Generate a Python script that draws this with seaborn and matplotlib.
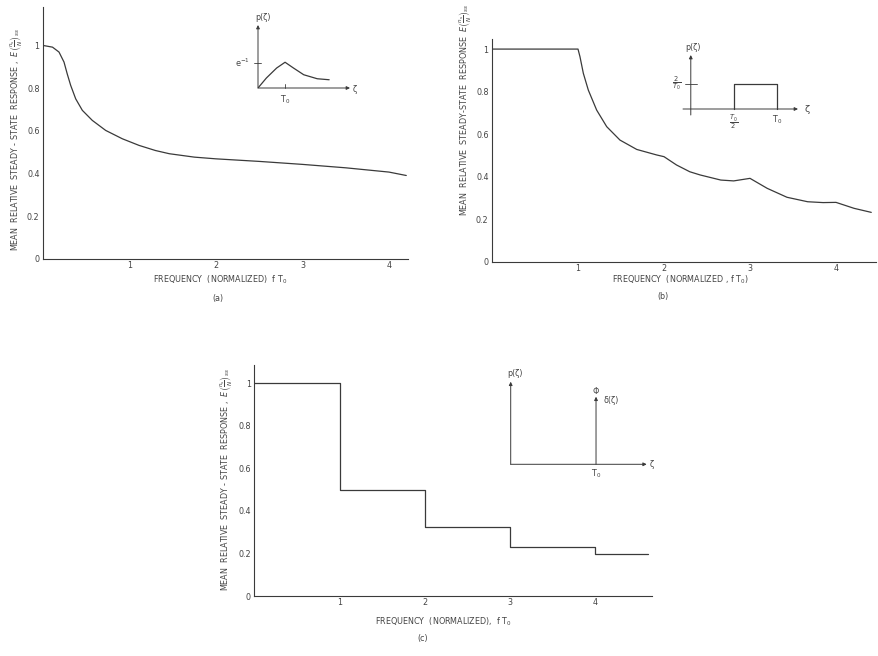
import matplotlib
matplotlib.use("Agg")
import matplotlib.pyplot as plt
import seaborn as sns
import pandas as pd

# ---------------- data ----------------
# (a) exponential-type distribution
freq_a = [0, 0.11, 0.185, 0.243, 0.28, 0.32, 0.378, 0.455, 0.57, 0.725, 0.917,
          1.11, 1.30, 1.46, 1.75, 2.0, 2.5, 3.0, 3.5, 4.0, 4.2]
resp_a = [1.0, 0.992, 0.969, 0.922, 0.867, 0.813, 0.75, 0.696, 0.649, 0.602, 0.563,
          0.532, 0.508, 0.493, 0.477, 0.469, 0.457, 0.443, 0.427, 0.407, 0.391]

# (b) uniform distribution on [T0/2, T0]
freq_b = [0, 1.0, 1.023, 1.062, 1.12, 1.217, 1.334, 1.488, 1.683, 1.915, 2.0, 2.145,
          2.30, 2.42, 2.66, 2.81, 3.0, 3.2, 3.43, 3.67, 3.85, 4.0, 4.21, 4.41]
resp_b = [1.0, 1.0, 0.964, 0.886, 0.807, 0.713, 0.635, 0.572, 0.528, 0.502, 0.494, 0.455,
          0.423, 0.408, 0.384, 0.380, 0.392, 0.345, 0.303, 0.282, 0.278, 0.279, 0.251, 0.232]

# (c) delta distribution at T0 (step response)
freq_c = [0, 1, 2, 3, 4, 4.62]
resp_c = [1.0, 0.5, 0.325, 0.232, 0.196, 0.196]

y_ticks = [0, 0.2, 0.4, 0.6, 0.8, 1.0]
y_tick_labels = ["0", "0.2", "0.4", "0.6", "0.8", "1"]
x_ticks = [1, 2, 3, 4]
x_tick_labels = ["1", "2", "3", "4"]

# inset sketches (in units of T0)
inset_a_zeta = [0, 0.31, 0.69, 1.0, 1.31, 1.69, 2.19, 2.63]
inset_a_p = [0, 0.4, 0.8, 1.03, 0.8, 0.53, 0.37, 0.33]
inset_b_zeta = [0.5, 0.5, 1.0, 1.0]
inset_b_p = [0, 1, 1, 0]
inset_c_spike_at = 1.0
inset_c_spike_height = 1.0

ylabel_comma = r"MEAN  RELATIVE  STEADY - STATE  RESPONSE ,  $E\left(\frac{n_s}{N}\right)_{ss}$"
ylabel_plain = r"MEAN  RELATIVE  STEADY-STATE  RESPONSE  $E\left(\frac{n_s}{N}\right)_{ss}$"
xlabel_a = r"FREQUENCY  (NORMALIZED)  f T$_0$"
xlabel_b = r"FREQUENCY  (NORMALIZED , f T$_0$)"
xlabel_c = r"FREQUENCY  (NORMALIZED),  f T$_0$"

# ---------------- style ----------------
sns.set_theme(style="white")
plt.rcParams["font.family"] = ["DejaVu Sans"]
plt.rcParams["mathtext.fontset"] = "dejavusans"
INK = "#3a3a3a"
TXT = "#444444"
FS = 5.8

W, H = 879, 656
fig = plt.figure(figsize=(W / 100, H / 100), dpi=100)
fig.patch.set_facecolor("white")


def px_axes(x0, ytop, x1, ybot):
    return fig.add_axes([x0 / W, 1 - ybot / H, (x1 - x0) / W, (ybot - ytop) / H])


def fig_text(x, y, s, **kw):
    kw.setdefault("fontsize", FS)
    kw.setdefault("color", TXT)
    fig.text(x / W, 1 - y / H, s, **kw)


def style_main(ax, xmax, ymax):
    ax.set_xlim(0, xmax)
    ax.set_ylim(0, ymax)
    for s in ["top", "right"]:
        ax.spines[s].set_visible(False)
    for s in ["left", "bottom"]:
        ax.spines[s].set_color(INK)
        ax.spines[s].set_linewidth(0.8)
    ax.set_xticks(x_ticks)
    ax.set_xticklabels(x_tick_labels)
    ax.set_yticks(y_ticks)
    ax.set_yticklabels(y_tick_labels)
    ax.tick_params(direction="in", length=3, width=0.6, colors=INK,
                   labelsize=FS, labelcolor=TXT)
    ax.tick_params(axis="x", pad=1.5)
    ax.tick_params(axis="y", pad=2.5)
    ax.set_xlabel("")
    ax.set_ylabel("")
    ax.patch.set_alpha(0)


def arrow(ax, x0, y0, x1, y1):
    ax.annotate("", xy=(x1, y1), xytext=(x0, y0),
                arrowprops=dict(arrowstyle="-|>", color=INK, lw=0.7,
                                mutation_scale=5, shrinkA=0, shrinkB=0))


def style_inset(ax, xlim, ylim):
    ax.set_xlim(*xlim)
    ax.set_ylim(*ylim)
    ax.axis("off")
    ax.patch.set_alpha(0)


line_kw = dict(color=INK, linewidth=0.9, estimator=None, sort=False, legend=False)

# ---------------- panel (a) ----------------
ax_a = px_axes(43, 7, 408, 259)
sns.lineplot(data=pd.DataFrame({"f": freq_a, "r": resp_a}), x="f", y="r", ax=ax_a, **line_kw)
style_main(ax_a, 4.22, 1.18)

ins_a = px_axes(258, 25, 350, 88)
sns.lineplot(x=inset_a_zeta, y=inset_a_p, ax=ins_a, **line_kw)
style_inset(ins_a, (0, 3.4), (0, 2.52))
arrow(ins_a, 0, 0, 0, 2.52)
arrow(ins_a, 0, 0, 3.4, 0)
ins_a.plot([-0.15, 0.12], [1, 1], color=INK, lw=0.6, clip_on=False)
ins_a.plot([1, 1], [0, 0.15], color=INK, lw=0.6, clip_on=False)
ins_a.text(0.18, 2.62, "p(ζ)", fontsize=FS, color=TXT, ha="center", va="bottom")
ins_a.text(-0.3, 1.0, r"e$^{-1}$", fontsize=FS, color=TXT, ha="right", va="center")
ins_a.text(1.0, -0.22, r"T$_0$", fontsize=FS, color=TXT, ha="center", va="top")
ins_a.text(3.5, -0.05, "ζ", fontsize=FS, color=TXT, ha="left", va="center")

fig_text(16, 140, ylabel_comma, rotation=90, ha="center", va="center")
fig_text(220, 280, xlabel_a, ha="center", va="center")
fig_text(218, 298, "(a)", ha="center", va="center")

# ---------------- panel (b) ----------------
ax_b = px_axes(492, 39.3, 876, 261.7)
sns.lineplot(data=pd.DataFrame({"f": freq_b, "r": resp_b}), x="f", y="r", ax=ax_b, **line_kw)
style_main(ax_b, 4.465, 1.046)

ins_b = px_axes(683, 55, 798, 115)
sns.lineplot(x=inset_b_zeta, y=inset_b_p, ax=ins_b, **line_kw)
style_inset(ins_b, (-0.09, 1.24), (-0.24, 2.16))
arrow(ins_b, 0, -0.24, 0, 2.16)
arrow(ins_b, -0.09, 0, 1.24, 0)
ins_b.plot([-0.07, 0.07], [1, 1], color=INK, lw=0.6, clip_on=False)
ins_b.text(0.03, 2.28, "p(ζ)", fontsize=FS, color=TXT, ha="center", va="bottom")
ins_b.text(-0.11, 1.0, r"$\frac{2}{T_0}$", fontsize=FS + 1, color=TXT, ha="right", va="center")
ins_b.text(0.5, -0.2, r"$\frac{T_0}{2}$", fontsize=FS + 1, color=TXT, ha="center", va="top")
ins_b.text(1.0, -0.2, r"T$_0$", fontsize=FS, color=TXT, ha="center", va="top")
ins_b.text(1.32, 0, "ζ", fontsize=FS + 1, color=TXT, ha="left", va="center")

fig_text(465, 110, ylabel_plain, rotation=90, ha="center", va="center")
fig_text(680, 280, xlabel_b, ha="center", va="center")
fig_text(663, 297, "(b)", ha="center", va="center")

# ---------------- panel (c) ----------------
ax_c = px_axes(254.3, 365, 651.7, 596)
sns.lineplot(data=pd.DataFrame({"f": freq_c, "r": resp_c}), x="f", y="r", ax=ax_c,
             drawstyle="steps-post", **line_kw)
style_main(ax_c, 4.66, 1.086)

ins_c = px_axes(510.7, 381.7, 646.7, 464.3)
style_inset(ins_c, (0, 1.594), (0, 1.222))
arrow(ins_c, 0, 0, 0, 1.222)
arrow(ins_c, 0, 0, 1.594, 0)
arrow(ins_c, inset_c_spike_at, 0, inset_c_spike_at, inset_c_spike_height)
ins_c.text(0.05, 1.27, "p(ζ)", fontsize=FS, color=TXT, ha="center", va="bottom")
ins_c.text(inset_c_spike_at, 1.08, "Φ", fontsize=FS, color=TXT, ha="center", va="center")
ins_c.text(1.18, 0.95, "δ(ζ)", fontsize=FS, color=TXT, ha="center", va="center")
ins_c.text(inset_c_spike_at, -0.05, r"T$_0$", fontsize=FS, color=TXT, ha="center", va="top")
ins_c.text(1.63, 0, "ζ", fontsize=FS, color=TXT, ha="left", va="center")

fig_text(226, 480, ylabel_comma, rotation=90, ha="center", va="center")
fig_text(443, 622, xlabel_c, ha="center", va="center")
fig_text(423, 639, "(c)", ha="center", va="center")

fig.savefig("out.png", dpi=100, facecolor="white")
